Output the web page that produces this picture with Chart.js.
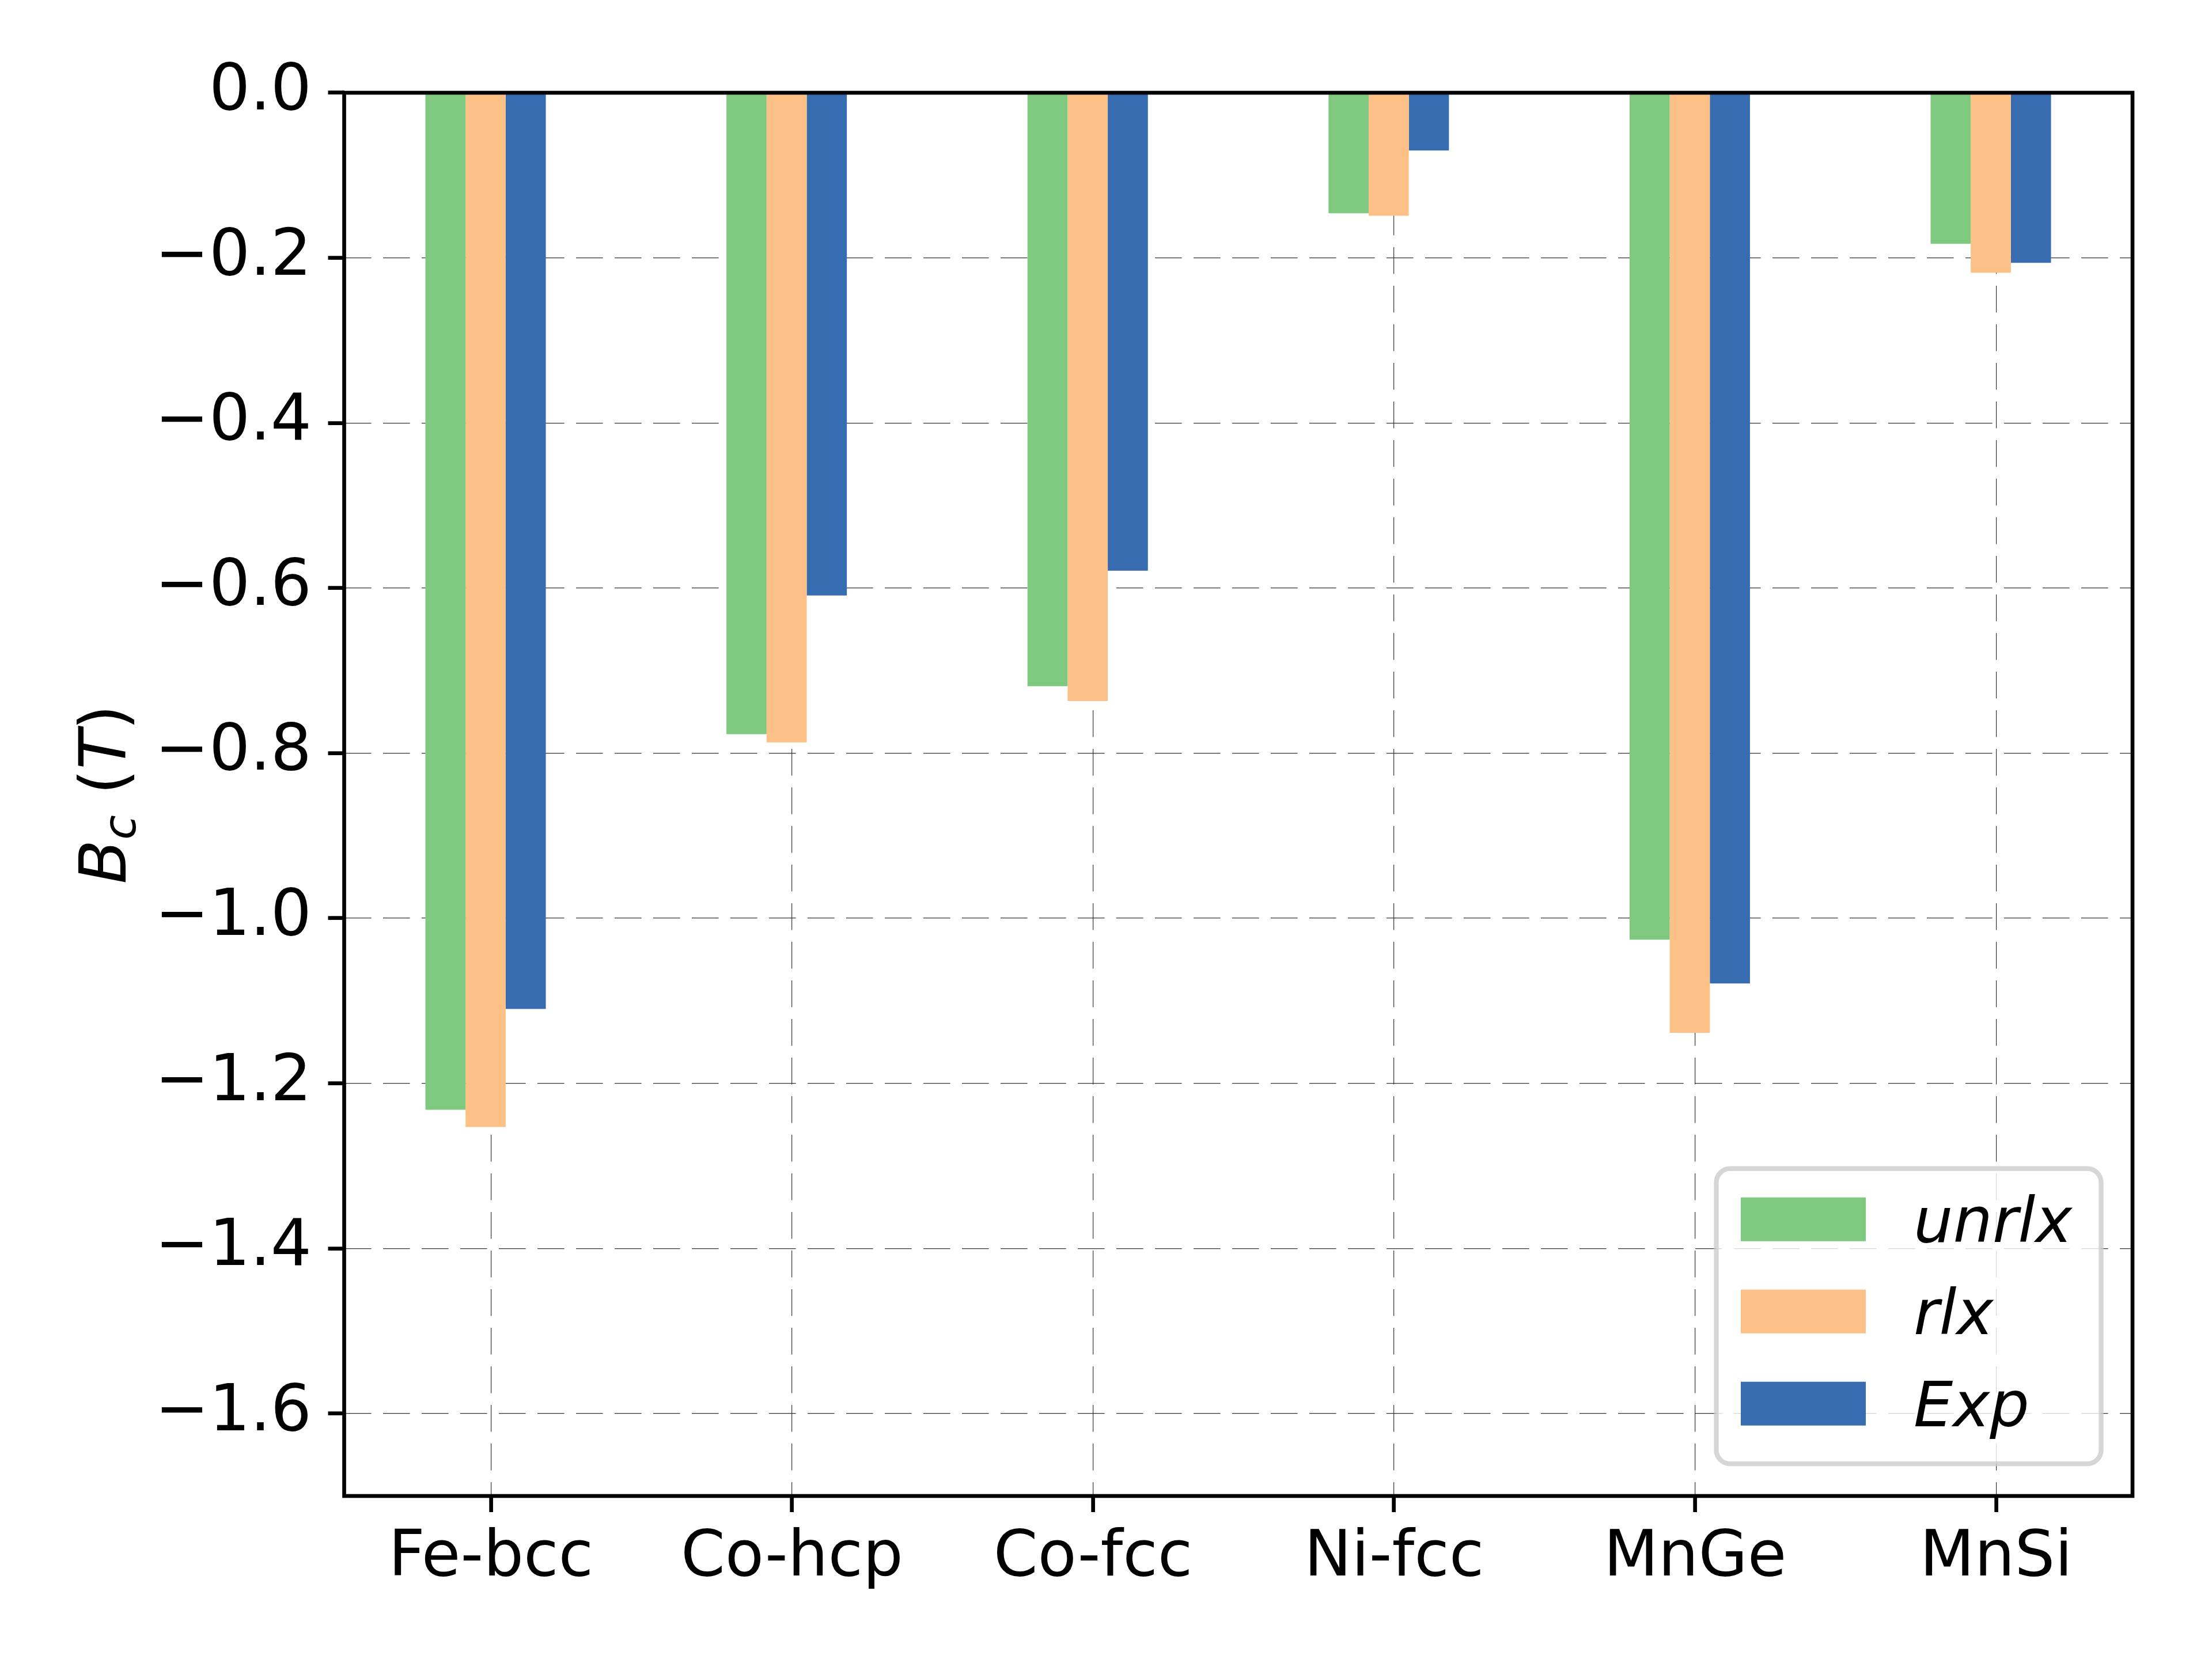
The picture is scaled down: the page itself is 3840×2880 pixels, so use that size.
<!DOCTYPE html>
<html>
<head>
<meta charset="utf-8">
<title>Bc</title>
<script src="https://cdn.jsdelivr.net/npm/chart.js"></script>
<style>
  html, body { margin: 0; padding: 0; background: #fff; }
  #contenedor { width: 3840px; height: 2880px; }
</style>
</head>
<body>
<div id="contenedor"><canvas id="myChart" width="3840" height="2880"></canvas></div>
<script>
const categorias = ["Fe-bcc", "Co-hcp", "Co-fcc", "Ni-fcc", "MnGe", "MnSi"];
const unrlx = [-1.232, -0.777, -0.719, -0.146, -1.026, -0.183];
const rlx = [-1.253, -0.787, -0.737, -0.149, -1.139, -0.218];
const exp = [-1.110, -0.609, -0.579, -0.070, -1.079, -0.206];
const ticksY = [0, -0.2, -0.4, -0.6, -0.8, -1.0, -1.2, -1.4, -1.6];

const chart = document.querySelector("#myChart");
const fuente = '"DejaVu Sans"';
// en el original las marcas del eje x quedan un poco a la derecha del centro del grupo
const desplazamientoTick = 0.0177;

Chart.defaults.font.family = fuente;
Chart.defaults.color = "#000";

const puntos = (valores) => valores.map((v, i) => ({ x: i, y: v }));

const formatoY = (v) => (Math.abs(v) < 1e-9 ? "0.0" : "\u2212" + Math.abs(v).toFixed(1));

// marco negro alrededor del area del grafico
const marco = {
  id: "marco",
  afterDraw(c) {
    const { ctx, chartArea: a } = c;
    ctx.save();
    ctx.strokeStyle = "#000";
    ctx.lineWidth = 6.67;
    ctx.strokeRect(a.left, a.top, a.right - a.left, a.bottom - a.top);
    ctx.restore();
  },
};

// titulo del eje y: B_c (T) en cursiva con subindice
const etiquetaY = {
  id: "etiquetaY",
  afterDraw(c) {
    const { ctx, chartArea: a } = c;
    const partes = [
      { t: "B", f: `italic 112px ${fuente}`, dy: 0 },
      { t: "c", f: `italic 78px ${fuente}`, dy: 17 },
      { t: " (", f: `112px ${fuente}`, dy: 0 },
      { t: "T", f: `italic 112px ${fuente}`, dy: 0 },
      { t: ")", f: `112px ${fuente}`, dy: 0 },
    ];
    ctx.save();
    let total = 0;
    partes.forEach((p) => {
      ctx.font = p.f;
      p.w = ctx.measureText(p.t).width;
      total += p.w;
    });
    ctx.translate(a.left - 379.2, (a.top + a.bottom) / 2);
    ctx.rotate(-Math.PI / 2);
    ctx.fillStyle = "#000";
    ctx.textBaseline = "alphabetic";
    ctx.textAlign = "left";
    let x = -total / 2;
    partes.forEach((p) => {
      ctx.font = p.f;
      ctx.fillText(p.t, x, p.dy);
      x += p.w;
    });
    ctx.restore();
  },
};

// leyenda abajo a la derecha, con caja redondeada
const leyenda = {
  id: "leyenda",
  afterDraw(c) {
    const { ctx, chartArea: a } = c;
    const w = 668;
    const h = 512.5;
    const x0 = a.right - 54.5 - w;
    const y0 = a.bottom - 55.8 - h;
    ctx.save();
    ctx.beginPath();
    ctx.roundRect(x0, y0, w, h, 24);
    ctx.fillStyle = "rgba(255,255,255,0.8)";
    ctx.fill();
    ctx.lineWidth = 8.3;
    ctx.strokeStyle = "rgba(204,204,204,0.8)";
    ctx.stroke();
    ctx.font = `italic 108px ${fuente}`;
    ctx.textBaseline = "alphabetic";
    c.data.datasets.forEach((ds, i) => {
      const py = y0 + 50 + i * 160;
      ctx.fillStyle = ds.backgroundColor;
      ctx.fillRect(x0 + 42.5, py, 217, 76);
      ctx.fillStyle = "#000";
      ctx.fillText(ds.label, x0 + 342.5, py + 77);
    });
    ctx.restore();
  },
};

const rejilla = {
  color: "#333",
  lineWidth: 1.2,
  offset: false,
  tickLength: 28,
  tickWidth: 6.67,
  tickColor: "#000",
  tickBorderDash: [],
};

const datasets = [
  { label: "unrlx", data: puntos(unrlx), backgroundColor: "#7fc97f" },
  { label: "rlx", data: puntos(rlx), backgroundColor: "#fdc086" },
  { label: "Exp", data: puntos(exp), backgroundColor: "#386cb0" },
];

const config = {
  type: "bar",
  data: { datasets },
  options: {
    responsive: false,
    animation: false,
    devicePixelRatio: 1,
    layout: { padding: { left: 0, right: 138, top: 161, bottom: 0 } },
    datasets: { bar: { categoryPercentage: 0.4, barPercentage: 1.0, borderWidth: 0 } },
    scales: {
      x: {
        type: "linear",
        min: -0.4698,
        max: 5.4707,
        offset: false,
        z: 1,
        afterBuildTicks: (s) => {
          s.ticks = categorias.map((c, i) => ({ value: i + desplazamientoTick }));
        },
        afterFit: (s) => {
          s.height = 283;
        },
        grid: rejilla,
        border: { display: false, dash: [46.6, 20.4] },
        ticks: {
          font: { size: 110 },
          color: "#000",
          padding: 15,
          maxRotation: 0,
          minRotation: 0,
          autoSkip: false,
          callback: (v, i) => categorias[i] ?? "",
        },
      },
      y: {
        min: -1.7,
        max: 0,
        z: 1,
        afterBuildTicks: (s) => {
          s.ticks = ticksY.map((v) => ({ value: v }));
        },
        afterFit: (s) => {
          s.width = 597.5;
        },
        grid: rejilla,
        border: { display: false, dash: [46.6, 20.4] },
        ticks: {
          font: { size: 112 },
          color: "#000",
          padding: 28.5,
          callback: formatoY,
        },
      },
    },
    plugins: {
      legend: { display: false },
      tooltip: { enabled: false },
    },
  },
  plugins: [marco, etiquetaY, leyenda],
};

const myChart = new Chart(chart, config);
</script>
</body>
</html>
